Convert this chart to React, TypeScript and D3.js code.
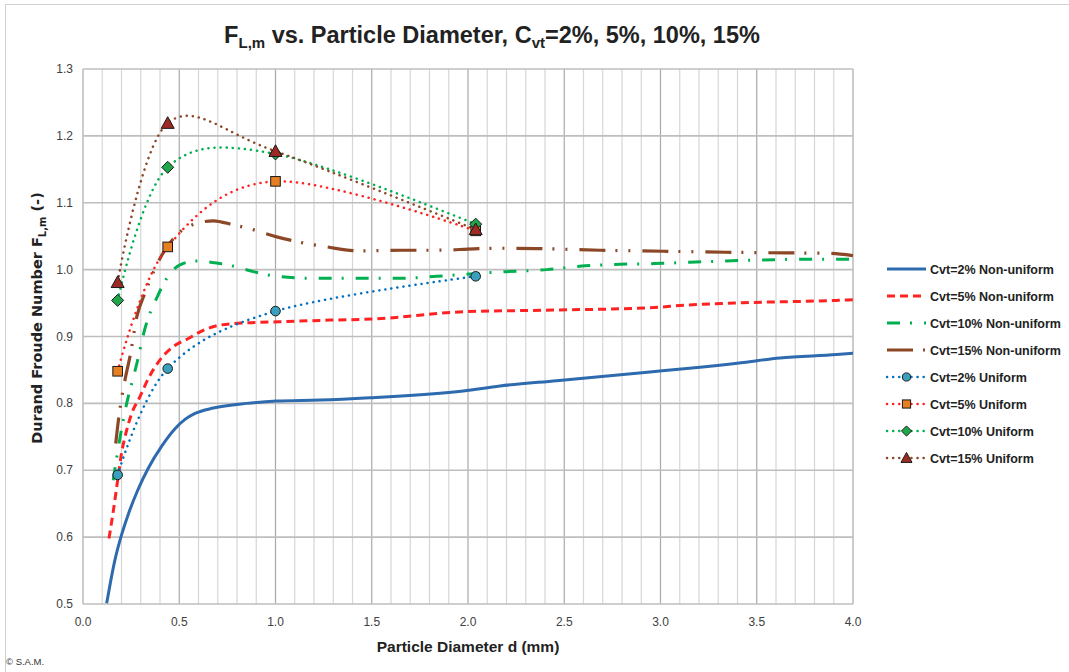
import React from "react";
import * as d3 from "d3";

// ---------- data ----------
const xTicks = [0, 0.5, 1.0, 1.5, 2.0, 2.5, 3.0, 3.5, 4.0];
const yTicks = [0.5, 0.6, 0.7, 0.8, 0.9, 1.0, 1.1, 1.2, 1.3];

const nonUniform2: [number, number][] = [
  [0.123, 0.501], [0.166, 0.566], [0.201, 0.604], [0.235, 0.634], [0.287, 0.672], [0.339, 0.703],
  [0.409, 0.736], [0.478, 0.762], [0.53, 0.776], [0.582, 0.785], [0.677, 0.793], [0.85, 0.8],
  [1.006, 0.8035], [1.23, 0.805], [1.49, 0.8085], [1.976, 0.8185], [2.166, 0.826], [2.46, 0.834],
  [2.945, 0.847], [3.136, 0.852], [3.43, 0.861], [3.62, 0.868], [3.915, 0.873], [4.0, 0.875],
];
const nonUniform5: [number, number][] = [
  [0.135, 0.598], [0.158, 0.64], [0.18, 0.685], [0.2, 0.725], [0.227, 0.76], [0.253, 0.785],
  [0.296, 0.81], [0.34, 0.8375], [0.4, 0.865], [0.47, 0.885], [0.547, 0.897], [0.608, 0.907],
  [0.712, 0.917], [0.85, 0.9205], [1.02, 0.922], [1.283, 0.9245], [1.5, 0.926], [1.976, 0.937],
  [2.44, 0.9395], [2.945, 0.943], [3.136, 0.947], [3.43, 0.9505], [3.915, 0.954], [4.0, 0.955],
];
const nonUniform10: [number, number][] = [
  [0.157, 0.685], [0.19, 0.745], [0.227, 0.8], [0.253, 0.83], [0.28, 0.86], [0.32, 0.91],
  [0.39, 0.962], [0.435, 0.987], [0.504, 1.007], [0.59, 1.013], [0.694, 1.01], [0.798, 1.004],
  [0.885, 0.997], [1.006, 0.99], [1.197, 0.987], [1.65, 0.987], [1.837, 0.99], [2.01, 0.9935],
  [2.2, 0.997], [2.41, 1.0], [2.58, 1.005], [2.79, 1.008], [2.963, 1.009], [3.153, 1.011],
  [3.34, 1.013], [3.53, 1.0144], [3.71, 1.0155], [4.0, 1.0155],
];
const nonUniform15: [number, number][] = [
  [0.17, 0.74], [0.184, 0.775], [0.218, 0.835], [0.244, 0.87], [0.28, 0.93], [0.322, 0.965],
  [0.41, 1.022], [0.495, 1.054], [0.59, 1.069], [0.677, 1.073], [0.78, 1.067], [0.868, 1.061],
  [1.006, 1.049], [1.11, 1.042], [1.266, 1.034], [1.44, 1.028], [1.647, 1.029], [1.837, 1.029],
  [2.03, 1.031], [2.166, 1.032], [2.356, 1.0315], [2.686, 1.029], [3.015, 1.0275], [3.34, 1.026],
  [3.655, 1.025], [3.86, 1.0245], [4.0, 1.021],
];

const uniformD = [0.18, 0.44, 1.0, 2.04];
const uniform2 = [0.693, 0.852, 0.938, 0.99];
const uniform5 = [0.848, 1.034, 1.132, 1.058];
const uniform10 = [0.954, 1.153, 1.173, 1.068];
const uniform15 = [0.981, 1.219, 1.177, 1.06];

const legendLabels = [
  "Cvt=2% Non-uniform",
  "Cvt=5% Non-uniform",
  "Cvt=10% Non-uniform",
  "Cvt=15% Non-uniform",
  "Cvt=2% Uniform",
  "Cvt=5% Uniform",
  "Cvt=10% Uniform",
  "Cvt=15% Uniform",
];

// ---------- styles ----------
type Style = { color: string; width: number; dash?: string; legendDash?: string; cap: "butt" | "round"; marker?: string; fill?: string };
const styles: Style[] = [
  { color: "#2E6AAE", width: 3, cap: "butt" },
  { color: "#FF2222", width: 3, dash: "8 5", legendDash: "8 5", cap: "butt" },
  { color: "#00B050", width: 3, dash: "13 10 2 12", legendDash: "13 10 2 12", cap: "butt" },
  { color: "#8B4726", width: 3.2, dash: "26 10 2 11 2 12", legendDash: "26 10 2 11", cap: "butt" },
  { color: "#0070C0", width: 2.5, dash: "0.1 6", legendDash: "0.1 6", cap: "round", marker: "circle", fill: "#3BA0BE" },
  { color: "#FF2222", width: 2.5, dash: "0.1 6", legendDash: "0.1 6", cap: "round", marker: "square", fill: "#E67E22" },
  { color: "#00B050", width: 2.5, dash: "0.1 6", legendDash: "0.1 6", cap: "round", marker: "diamond", fill: "#1FA64A" },
  { color: "#8B4726", width: 2.5, dash: "0.1 6", legendDash: "0.1 6", cap: "round", marker: "triangle", fill: "#9E2A24" },
];

const W = 1069;
const H = 672;
const x = d3.scaleLinear().domain([0, 4]).range([83, 853]);
const y = d3.scaleLinear().domain([0.5, 1.3]).range([604, 69]);

function Marker({ kind, cx, cy, fill, s = 1 }: { kind: string; cx: number; cy: number; fill: string; s?: number }) {
  const common = { fill, stroke: "#1a1a1a", strokeWidth: 1 };
  if (kind === "circle") return <circle cx={cx} cy={cy} r={4.8 * s} {...common} />;
  if (kind === "square") return <rect x={cx - 4.8 * s} y={cy - 4.8 * s} width={9.6 * s} height={9.6 * s} {...common} />;
  if (kind === "diamond") {
    const r = 6 * s;
    return <path d={`M${cx},${cy - r}L${cx + r},${cy}L${cx},${cy + r}L${cx - r},${cy}Z`} {...common} />;
  }
  const r = 6.5 * s;
  return <path d={`M${cx},${cy - r}L${cx + r},${cy + r * 0.8}L${cx - r},${cy + r * 0.8}Z`} {...common} />;
}

export default function App() {
  const smooth = d3
    .line<[number, number]>()
    .x((d) => x(d[0]))
    .y((d) => y(d[1]))
    .curve(d3.curveMonotoneX);
  const uniformSmooth = d3
    .line<[number, number]>()
    .x((d) => x(d[0]))
    .y((d) => y(d[1]))
    .curve(d3.curveCardinal.tension(0));

  const nonUniform = [nonUniform2, nonUniform5, nonUniform10, nonUniform15];
  const uniform = [uniform2, uniform5, uniform10, uniform15].map(
    (vals) => uniformD.map((d, i) => [d, vals[i]] as [number, number])
  );

  const minorX = d3.range(0, 41).map((i) => i / 10);
  const font = "'Liberation Sans', Arial, sans-serif";

  return (
    <svg width={W} height={H} style={{ position: "absolute", left: 0, top: 0, background: "#fff" }} fontFamily={font}>
      <rect x={5.5} y={4.5} width={1070} height={680} fill="#fff" stroke="#D0D0D0" strokeWidth={1} />
      <defs>
        <clipPath id="plot">
          <rect x={83} y={69} width={770} height={535} />
        </clipPath>
      </defs>
      {/* grid */}
      {minorX.map((v) => {
        const major = Math.abs(v * 2 - Math.round(v * 2)) < 1e-6;
        return (
          <line
            key={"gx" + v}
            x1={x(v)}
            x2={x(v)}
            y1={y(1.3)}
            y2={y(0.5)}
            stroke={major ? "#A9A9A9" : "#D6D6D6"}
            strokeWidth={1.2}
          />
        );
      })}
      {yTicks.map((v) => (
        <line key={"gy" + v} x1={x(0)} x2={x(4)} y1={y(v)} y2={y(v)} stroke="#BEBEBE" strokeWidth={1.6} />
      ))}
      {/* series */}
      <g clipPath="url(#plot)">
        {nonUniform.map((data, i) => (
          <path
            key={"nu" + i}
            d={smooth(data) || ""}
            fill="none"
            stroke={styles[i].color}
            strokeWidth={styles[i].width}
            strokeDasharray={styles[i].dash}
            strokeLinecap={styles[i].cap}
          />
        ))}
        {uniform.map((data, i) => (
          <path
            key={"u" + i}
            d={uniformSmooth(data) || ""}
            fill="none"
            stroke={styles[i + 4].color}
            strokeWidth={styles[i + 4].width}
            strokeDasharray={styles[i + 4].dash}
            strokeLinecap={styles[i + 4].cap}
          />
        ))}
      </g>
      {uniform.map((data, i) =>
        data.map((p, j) => (
          <Marker key={`m${i}-${j}`} kind={styles[i + 4].marker!} cx={x(p[0])} cy={y(p[1])} fill={styles[i + 4].fill!} />
        ))
      )}
      {/* axes ticks */}
      {yTicks.map((v) => (
        <text key={"yt" + v} x={73} y={y(v) + 4} textAnchor="end" fontSize={12} fill="#404040">
          {v.toFixed(1)}
        </text>
      ))}
      {xTicks.map((v) => (
        <text key={"xt" + v} x={x(v)} y={626} textAnchor="middle" fontSize={12} fill="#404040">
          {v.toFixed(1)}
        </text>
      ))}
      {/* title */}
      <text x={492} y={43} textAnchor="middle" fontSize={23.5} fontWeight="bold" fill="#222">
        F<tspan fontSize={15} dy={5}>L,m</tspan>
        <tspan dy={-5}> vs. Particle Diameter, C</tspan>
        <tspan fontSize={15} dy={5}>vt</tspan>
        <tspan dy={-5}>=2%, 5%, 10%, 15%</tspan>
      </text>
      {/* axis titles */}
      <text x={468} y={652} textAnchor="middle" fontSize={15.5} fontWeight="bold" fill="#222">
        Particle Diameter d (mm)
      </text>
      <text
        transform="translate(42,318) rotate(-90)"
        textAnchor="middle"
        fontSize={14.5}
        fontWeight="bold"
        fill="#222"
        fontFamily="'DejaVu Sans', Verdana, sans-serif"
      >
        Durand Froude Number F<tspan fontSize={10} dy={4}>L,m</tspan>
        <tspan dy={-4}> (-)</tspan>
      </text>
      {/* legend */}
      {legendLabels.map((label, i) => {
        const ly = 269 + i * 27;
        const st = styles[i];
        return (
          <g key={"lg" + i}>
            <line
              x1={887}
              x2={926}
              y1={ly}
              y2={ly}
              stroke={st.color}
              strokeWidth={st.width}
              strokeDasharray={st.legendDash}
              strokeLinecap={st.cap}
            />
            {st.marker && <Marker kind={st.marker} cx={906.5} cy={ly} fill={st.fill!} s={0.85} />}
            <text x={930} y={ly + 4.5} fontSize={12.5} fontWeight="bold" fill="#222">
              {label}
            </text>
          </g>
        );
      })}
      <text x={6} y={665} fontSize={9.5} fill="#333">
        © S.A.M.
      </text>
    </svg>
  );
}
